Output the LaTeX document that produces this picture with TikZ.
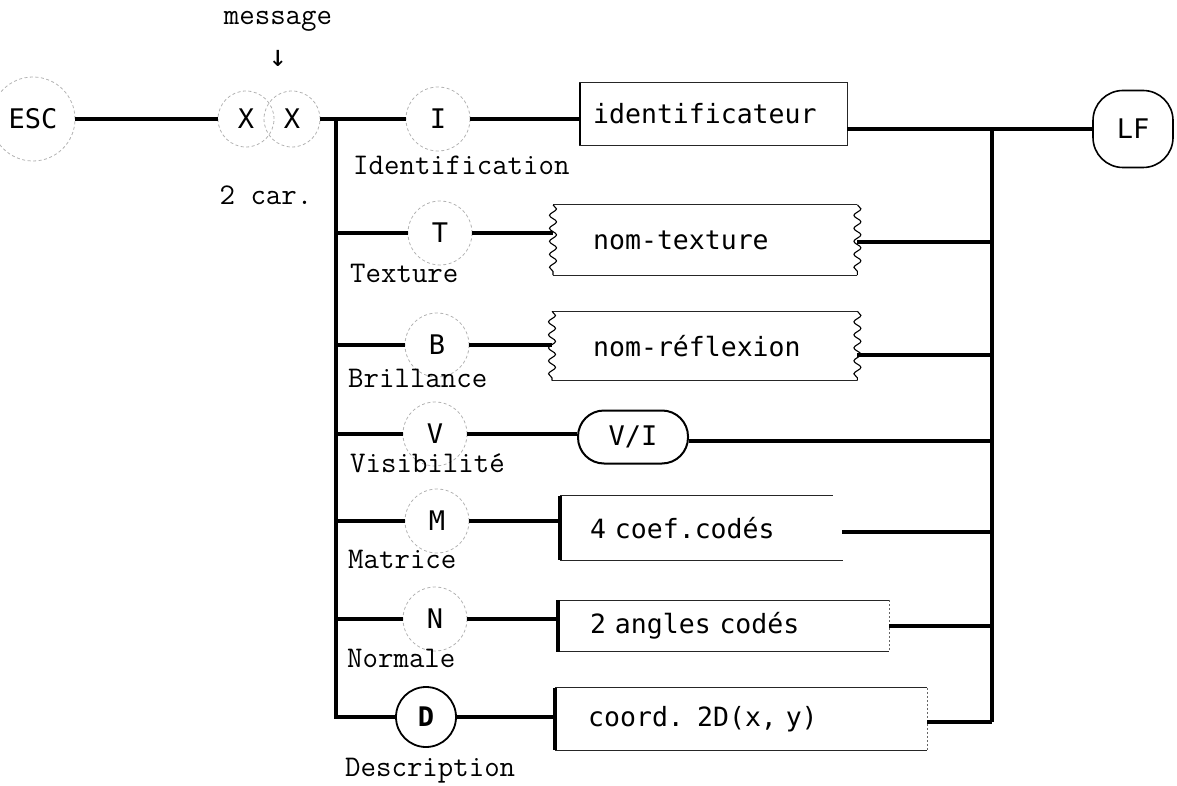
\documentclass[tikz,border=0pt]{standalone}
\usepackage{fontspec}
\newfontfamily\boxfont[WordSpace={1,0,0}]{DejaVu Sans Mono}
\usetikzlibrary{decorations.pathmorphing}
\begin{document}
\begin{tikzpicture}[x=1pt,y=-1pt,
  conn/.style={line width=3.2pt},
  lbl/.style={font=\fontsize{30}{34}\selectfont\ttfamily, anchor=base west, inner sep=0pt},
  toplbl/.style={font=\fontsize{30}{34}\selectfont\ttfamily, anchor=base, inner sep=0pt},
  sym/.style={circle, minimum size=64pt, inner sep=0pt, draw=black!30, line width=0.8pt,
              dash pattern=on 3pt off 2.5pt, font=\fontsize{27}{30}\selectfont\boxfont},
  bx/.style={font=\fontsize{26.5}{30}\selectfont\boxfont, anchor=west, align=left, inner ysep=0pt},
  edge/.style={line width=1.2pt, black!85},
  thickedge/.style={line width=4pt},
  faintedge/.style={line width=1pt, black!60, dash pattern=on 2pt off 2pt},
  wave/.style={line width=1.1pt, decorate, decoration={snake, amplitude=3.5pt, segment length=13pt}},
  rnd/.style={draw, font=\fontsize{27}{30}\selectfont\boxfont, inner sep=0pt}
]
\useasboundingbox (0,0) rectangle (1177,786);

% top row
\node[sym, minimum size=84pt] (ESC) at (33,119) {ESC};
\node[sym, minimum size=56pt] (X1) at (246,119) {X};
\node[sym, minimum size=56pt] (X2) at (292,119) {X};
\node[toplbl] (msg) at (278,25) {message};
\node[font=\fontsize{30}{32}\selectfont\boxfont, inner sep=0pt] (arr) at (278,58) {↓};
\node[toplbl] (car) at (266,205) {2 car.};

% choice symbols
\node[sym] (I) at (438,119) {I};
\node[sym] (T) at (440,233) {T};
\node[sym] (B) at (437,345) {B};
\node[sym] (V) at (435,434) {V};
\node[sym] (M) at (437,521) {M};
\node[sym] (N) at (435,619) {N};
\node[sym, minimum size=60pt, draw=black, line width=1.8pt, solid,
      font=\fontsize{27}{30}\selectfont\boxfont\bfseries] (D) at (426,717) {D};

% labels
\node[lbl] (lI) at (353,175) {Identification};
\node[lbl] (lT) at (350,283) {Texture};
\node[lbl] (lB) at (348,387) {Brillance};
\node[lbl] (lV) at (350,472) {Visibilité};
\node[lbl] (lM) at (348,568) {Matrice};
\node[lbl] (lN) at (347,667) {Normale};
\node[lbl] (lD) at (345,776) {Description};

% boxes
\node[bx, inner xsep=13pt, text width=241pt, minimum height=62pt] (ibox) at (580,114) {identificateur};
\node[bx, inner xsep=40pt, text width=224pt, minimum height=70pt] (tbox) at (553,240) {nom-texture};
\node[bx, inner xsep=41pt, text width=223pt, minimum height=69pt] (rbox) at (552,346) {nom-réflexion};
\node[rnd, rounded corners=26pt, minimum width=110pt, minimum height=53pt, line width=2pt] (VI) at (633,437) {V/I};
\node[bx, inner xsep=30pt, text width=223pt, minimum height=64pt] (mbox) at (560,528) {4 coef.codés};
\node[bx, inner xsep=32pt, text width=267pt, minimum height=51pt] (nbox) at (558,626) {2 angles codés};
\node[bx, inner xsep=33pt, text width=306pt, minimum height=62pt] (cbox) at (555,719) {coord. 2D(x, y)};
\node[rnd, rounded corners=30pt, minimum width=80pt, minimum height=77pt, line width=1.6pt] (LF) at (1133,129) {LF};

% box outlines
\draw[edge] (ibox.north west) rectangle (ibox.south east);
\draw[line width=2pt] (ibox.north west) -- (ibox.south west);

\draw[edge] (tbox.north west) -- (tbox.north east);
\draw[edge] (tbox.south west) -- (tbox.south east);
\draw[wave] (tbox.north west) -- (tbox.south west);
\draw[wave] (tbox.north east) -- (tbox.south east);

\draw[edge] (rbox.north west) -- (rbox.north east);
\draw[edge] (rbox.south west) -- (rbox.south east);
\draw[wave] (rbox.north west) -- (rbox.south west);
\draw[wave] (rbox.north east) -- (rbox.south east);

\draw[edge] (mbox.north west) -- ([xshift=-10pt]mbox.north east);
\draw[edge] (mbox.south west) -- (mbox.south east);
\draw[thickedge] (mbox.north west) -- (mbox.south west);

\draw[edge] (nbox.north west) -- (nbox.north east);
\draw[edge] (nbox.south west) -- (nbox.south east);
\draw[thickedge] (nbox.north west) -- (nbox.south west);
\draw[faintedge] (nbox.north east) -- (nbox.south east);

\draw[edge] (cbox.north west) -- (cbox.north east);
\draw[edge] (cbox.south west) -- (cbox.south east);
\draw[thickedge] (cbox.north west) -- (cbox.south west);
\draw[faintedge] (cbox.north east) -- (cbox.south east);

% bus coordinates
\coordinate (bTop) at (336,119);
\coordinate (bBot) at (336,717);
\coordinate (pT) at (336,233);
\coordinate (pB) at (336,345);
\coordinate (pV) at (336,434);
\coordinate (pM) at (336,521);
\coordinate (pN) at (336,619);
\coordinate (rI) at (992,129);
\coordinate (rT) at (992,242);
\coordinate (rB) at (992,355);
\coordinate (rV) at (992,441);
\coordinate (rM) at (992,532);
\coordinate (rN) at (992,626);
\coordinate (rD) at (992,722);

% connectors
\draw[conn] (ESC) -- (X1);
\draw[conn] (X2) -- (I);
\draw[conn] (bTop) -- (bBot) -- (D);
\draw[conn] (pT) -- (T);
\draw[conn] (pB) -- (B);
\draw[conn] (pV) -- (V);
\draw[conn] (pM) -- (M);
\draw[conn] (pN) -- (N);

\draw[conn] (I) -- (I -| ibox.west);
\draw[conn] (T) -- (T -| tbox.west);
\draw[conn] (B) -- (B -| rbox.west);
\draw[conn] (V) -- (V -| VI.west);
\draw[conn] (M) -- (M -| mbox.west);
\draw[conn] (N) -- (N -| nbox.west);
\draw[conn] (D) -- (D -| cbox.west);

\draw[conn] (ibox.east |- rI) -- (LF);
\draw[conn] (rI) -- (rD);
\draw[conn] (tbox.east |- rT) -- (rT);
\draw[conn] (rbox.east |- rB) -- (rB);
\draw[conn] (VI.east |- rV) -- (rV);
\draw[conn] ([xshift=-1pt]mbox.east |- rM) -- (rM);
\draw[conn] (nbox.east |- rN) -- (rN);
\draw[conn] (cbox.east |- rD) -- (rD);
\end{tikzpicture}
\end{document}
